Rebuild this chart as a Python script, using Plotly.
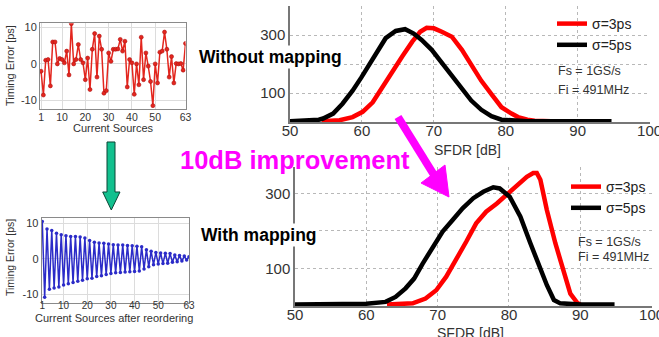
import plotly.graph_objects as go

W, H = 659, 337
def fx(px): return px / W
def fy(py): return 1 - py / H

FONT = "Liberation Sans, Arial, sans-serif"

# ---------------- data ----------------
sources = list(range(1, 64))
timing_error = [-2, -8.5, 1, 1.2, -6, 6, 6, 0, 1.5, 1.2, 0.3, 3.5, -3, 11, 0, 1.2, 5.3, 1.2, 0.3, -4.3,
                1.6, -7, 4, 8.3, -3.6, 7.6, 4, -8, -7.3, 3, 0.7, 4, 4, 4.1, 6.7, 3.5, 6.2, -6.3, 1.2, 0.3,
                -8.3, 0, -5.7, 7.3, -4.3, 3, -0.6, -4.8, -11.4, 0, -5.2, 3.2, 3.5, 8.7, 4, -3.6, 2, -5.2,
                0.1, 0, 0.1, -1.7, 5.6]

# reordered sources: odd positions (peaks) and even positions (troughs)
reordered_peaks = [10.5, 8.4, 8.0, 7.2, 6.8, 6.5, 6.3, 6.3, 6.2, 5.9, 5.2, 4.7, 4.5, 4.4, 4.2, 4.0,
                   3.9, 3.9, 3.8, 3.7, 3.6, 3.4, 2.6, 2.2, 1.8, 1.7, 1.6, 1.5, 1.1, 1.0, 0.8, 0.6]
reordered_troughs = [-10.8, -8.5, -8.2, -7.9, -7.3, -7.0, -6.6, -6.3, -6.0, -5.6, -5.4, -4.9, -4.7, -4.4,
                     -4.1, -3.9, -3.8, -3.7, -3.6, -3.5, -3.4, -2.8, -2.2, -1.6, -1.4, -1.3, -1.2, -0.9,
                     -0.8, -0.6, -0.3]
reordered_error = []
for i in range(63):
    reordered_error.append(reordered_peaks[i // 2] if i % 2 == 0 else reordered_troughs[i // 2])

# SFDR histograms, without mapping
sfdr_wo_5ps_x = [50, 52, 54, 54.6, 56, 57.3, 58.7, 59.9, 61, 62.2, 63.3, 64.7, 66, 67.2, 68.3, 69.7,
                 71.1, 72.5, 73.9, 75.2, 76.6, 78, 79.4, 80.8, 83, 86, 90, 94.7]
sfdr_wo_5ps_y = [3, 4, 8, 12, 29, 63, 108, 153, 198, 249, 289, 314, 320, 305, 283, 249,
                 204, 158, 113, 74, 42, 20, 8, 5, 3, 3, 3, 3]
sfdr_wo_3ps_x = [54.4, 56.9, 58.7, 60.1, 61.5, 62.8, 64.2, 65.6, 67, 68.1, 69, 70, 71.1, 72.5, 73.9,
                 75.2, 76.6, 78, 79.4, 80.8, 81.7, 83, 84, 86.3]
sfdr_wo_3ps_y = [3, 6, 17, 35, 68, 119, 176, 226, 277, 311, 325, 323, 311, 294, 249,
                 198, 142, 96, 51, 29, 17, 8, 4, 3]
# SFDR histograms, with mapping
sfdr_w_5ps_x = [49.7, 55, 60, 62.7, 64.1, 65.5, 66.7, 67.9, 69.3, 70.7, 72.1, 73.5, 75, 76.4, 77.8,
                78.7, 80.1, 81.6, 83, 84.4, 85.3, 86.3, 87.2, 90, 94.8]
sfdr_w_5ps_y = [4, 4, 6, 11, 24, 47, 73, 113, 153, 198, 229, 260, 287, 304, 316,
                313, 291, 238, 167, 96, 56, 16, 7, 4, 4]
sfdr_w_3ps_x = [62.9, 66.5, 68.3, 69.8, 71.2, 72.6, 74, 75.4, 76.8, 78.3, 79.7, 81.1, 82.5, 83.4, 83.9,
                84.4, 85.3, 86.5, 87.7, 88.6, 89.6, 90]
sfdr_w_3ps_y = [4, 7, 20, 42, 78, 122, 171, 220, 251, 273, 296, 322, 344, 354, 354,
                336, 256, 167, 87, 33, 8, 4]

left_xticks = [1, 10, 20, 30, 40, 50, 63]
left_yticks = [-10, 0, 10]
left_yticktext = ["-10", "0", "10"]
sfdr_xticks = [50, 60, 70, 80, 90, 100]
sfdr_yticks = [100, 200, 300]
sfdr_yticktext = ["100", "", "300"]

# ---------------- figure ----------------
fig = go.Figure()

fig.add_trace(go.Scatter(x=sources, y=timing_error, mode="lines+markers", xaxis="x", yaxis="y",
                         line=dict(color="#E3261E", width=1.5),
                         marker=dict(size=4, color="#E3261E", line=dict(color="#B01010", width=0.6)),
                         showlegend=False))
fig.add_trace(go.Scatter(x=sources, y=reordered_error, mode="lines+markers", xaxis="x2", yaxis="y2",
                         line=dict(color="#2B2BC8", width=1.5),
                         marker=dict(size=3.5, color="#2B2BC8"),
                         showlegend=False))

fig.add_trace(go.Scatter(x=sfdr_wo_3ps_x, y=sfdr_wo_3ps_y, mode="lines", xaxis="x3", yaxis="y3",
                         name="σ=3ps", line=dict(color="#FF0000", width=4.5), legend="legend"))
fig.add_trace(go.Scatter(x=sfdr_wo_5ps_x, y=sfdr_wo_5ps_y, mode="lines", xaxis="x3", yaxis="y3",
                         name="σ=5ps", line=dict(color="#000000", width=4.5), legend="legend"))
fig.add_trace(go.Scatter(x=sfdr_w_3ps_x, y=sfdr_w_3ps_y, mode="lines", xaxis="x4", yaxis="y4",
                         name="σ=3ps", line=dict(color="#FF0000", width=4.5), legend="legend2"))
fig.add_trace(go.Scatter(x=sfdr_w_5ps_x, y=sfdr_w_5ps_y, mode="lines", xaxis="x4", yaxis="y4",
                         name="σ=5ps", line=dict(color="#000000", width=4.5), legend="legend2"))

left_x = dict(showline=True, mirror=True, linecolor="#8a8a8a", linewidth=1, showgrid=True,
              gridcolor="#dcdcdc", gridwidth=1, zeroline=False, ticks="", tickvals=left_xticks,
              automargin=False, tickfont=dict(size=10.5, color="#333", family=FONT))
left_y = dict(showline=True, mirror=True, linecolor="#8a8a8a", linewidth=1, showgrid=True,
              gridcolor="#dcdcdc", gridwidth=1, zeroline=False, ticks="", tickvals=left_yticks,
              automargin=False, ticktext=left_yticktext, tickfont=dict(size=11, color="#333", family=FONT))
right_x = dict(showline=True, linecolor="#777", linewidth=1.5, showgrid=True, gridcolor="#b8b8b8",
               griddash="dot", gridwidth=1, zeroline=False, ticks="", tickvals=sfdr_xticks,
               automargin=False, ticklabeloverflow="allow", ticklabelstandoff=-6,
               tickfont=dict(size=15, color="#333", family=FONT), range=[50, 100.05])
right_y = dict(showline=True, linecolor="#777", linewidth=1.5, showgrid=True, gridcolor="#b8b8b8",
               griddash="dot", gridwidth=1, zeroline=False, ticks="", tickvals=sfdr_yticks,
               automargin=False, ticktext=sfdr_yticktext, tickfont=dict(size=15, color="#333", family=FONT))

fig.update_layout(
    template="none",
    width=W, height=H, margin=dict(l=0, r=0, t=0, b=0, pad=0, autoexpand=False),
    paper_bgcolor="white", plot_bgcolor="white",
    font=dict(family=FONT, color="#222"),
    xaxis=dict(left_x, domain=[fx(40), fx(185.5)], range=[0.55, 63], anchor="y", ticklabelstandoff=-2),
    yaxis=dict(left_y, domain=[fy(109.3), fy(23.3)], range=[-12.4, 11.1], anchor="x"),
    xaxis2=dict(left_x, domain=[fx(41.7), fx(189)], range=[0.75, 63], anchor="y2", ticklabelstandoff=-7,
                tickfont=dict(size=10, color="#333", family=FONT)),
    yaxis2=dict(left_y, domain=[fy(302.7), fy(217.7)], range=[-12.3, 11.6], anchor="x2"),
    xaxis3=dict(right_x, domain=[fx(290), fx(650)], anchor="y3"),
    yaxis3=dict(right_y, domain=[fy(122), fy(6)], range=[0, 400], anchor="x3"),
    xaxis4=dict(right_x, domain=[fx(295), fx(652)], anchor="y4"),
    yaxis4=dict(right_y, domain=[fy(306), fy(167)], range=[0, 370], anchor="x4"),
    legend=dict(x=fx(552), y=fy(8), xanchor="left", yanchor="top", bgcolor="rgba(0,0,0,0)",
                font=dict(size=14, color="#222", family=FONT), itemwidth=30, tracegroupgap=0),
    legend2=dict(x=fx(566), y=fy(171), xanchor="left", yanchor="top", bgcolor="rgba(0,0,0,0)",
                 font=dict(size=14, color="#222", family=FONT), itemwidth=30, tracegroupgap=0),
)

ann = []
def text(t, x, y, size, color="#333", bold=False, xanchor="center", angle=0, bg=None):
    d = dict(text=f"<b>{t}</b>" if bold else t, x=fx(x), y=fy(y), xref="paper", yref="paper",
             showarrow=False, xanchor=xanchor, yanchor="middle", textangle=angle,
             font=dict(size=size, color=color, family=FONT))
    if bg:
        d["bgcolor"] = bg
    ann.append(d)

text("Current Sources", 113, 128, 11)
text("Timing Error [ps]", 10, 66, 11, angle=-90)
text("Current Sources after reordering", 114, 318, 11)
text("Timing Error [ps]", 10, 258, 10.5, angle=-90)
text("SFDR [dB]", 467, 150, 14)
text("SFDR [dB]", 470, 333, 14)
text("Fs = 1GS/s", 556, 71, 12.5, xanchor="left")
text("Fi = 491MHz", 556, 90, 12.5, xanchor="left")
text("Fs = 1GS/s", 576, 241.7, 12.5, xanchor="left")
text("Fi = 491MHz", 576, 256.7, 12.5, xanchor="left")
text("Without mapping", 270, 57, 17.5, color="#000", bold=True, bg="white")
text("With mapping", 259, 235, 17.5, color="#000", bold=True, bg="white")
text("10dB improvement", 295, 160, 25.5, color="#FF00FF", bold=True)
fig.update_layout(annotations=ann)

def path(pts):
    return "M " + " L ".join(f"{fx(x):.5f},{fy(y):.5f}" for x, y in pts) + " Z"

shapes = [
    # green arrow
    dict(type="path", xref="paper", yref="paper",
         path=path([(107, 142), (115, 142), (115, 192), (120, 192), (111.3, 210), (102.7, 192), (107, 192)]),
         fillcolor="#12C08E", line=dict(color="#0b4535", width=1)),
    # magenta arrow shaft
    dict(type="line", xref="paper", yref="paper", x0=fx(398), y0=fy(117), x1=fx(434), y1=fy(175),
         line=dict(color="#FF00FF", width=8)),
    # magenta arrow head
    dict(type="path", xref="paper", yref="paper",
         path=path([(421, 183), (445, 165), (449, 197)]),
         fillcolor="#FF00FF", line=dict(color="#FF00FF", width=1)),
]
fig.update_layout(shapes=shapes)

fig.write_html("out.html", config={"displayModeBar": False},
               post_script="document.body.style.margin='0px';document.body.style.overflow='hidden';")
